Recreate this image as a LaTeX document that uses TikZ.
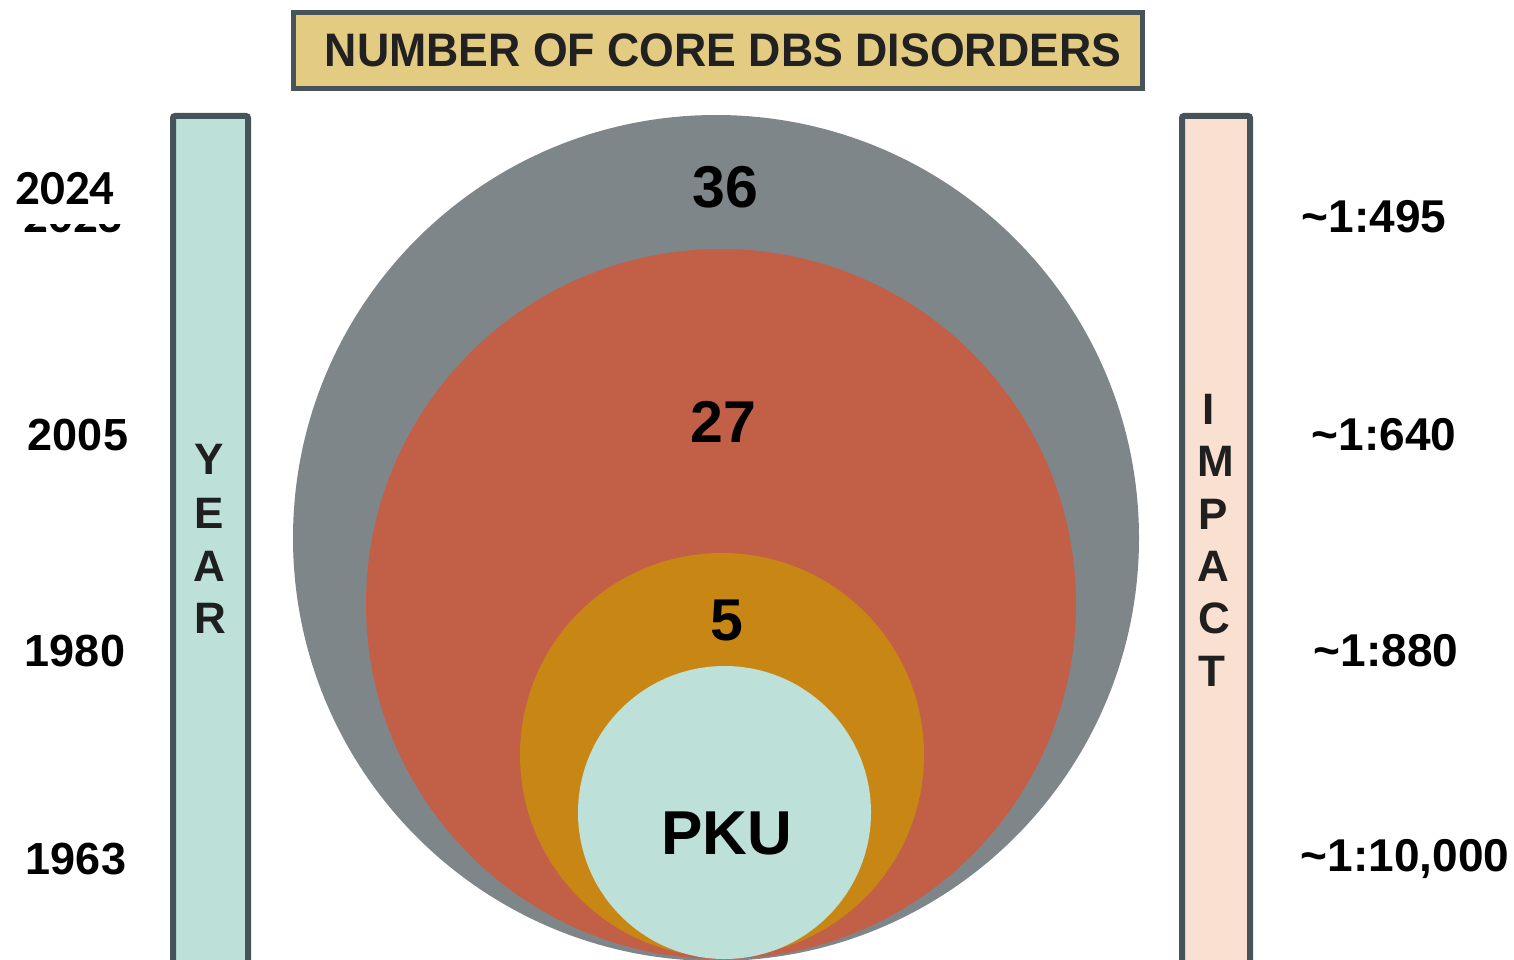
\documentclass[tikz,border=0pt]{standalone}
\usepackage{fontspec}
\setmainfont{Liberation Sans}
\newfontfamily\calib{Carlito}
\definecolor{cgray}{HTML}{7F868A}
\definecolor{cred}{HTML}{C26047}
\definecolor{corange}{HTML}{C88614}
\definecolor{cmint}{HTML}{BDE0D9}
\definecolor{cpeach}{HTML}{F9E0D0}
\definecolor{cborder}{HTML}{465459}
\definecolor{ctitle}{HTML}{E4CB82}
\tikzset{
  disc/.style={circle, inner sep=0pt, draw=none},
  bar/.style={draw=cborder, line width=6pt, rounded corners=2pt},
  big/.style={font=\fontsize{59}{59}\selectfont\bfseries, inner sep=0pt},
  lab/.style={font=\fontsize{45}{45}\selectfont\bfseries, inner sep=0pt},
  imp/.style={font=\fontsize{46}{46}\selectfont\bfseries, inner sep=0pt},
  vlet/.style={font=\fontsize{44}{44}\selectfont\bfseries, inner sep=0pt, text=black!88},
}
\begin{document}
\begin{tikzpicture}[x=1pt,y=-1pt]
\useasboundingbox (0,0) rectangle (1514,960);
\clip (0,0) rectangle (1514,960);
% title
\node[draw=cborder, fill=ctitle, line width=5pt, minimum width=849pt, minimum height=76pt, inner sep=0pt] (title) at (717.5,51) {};
\node[font=\fontsize{47}{47}\selectfont\bfseries, text=black!87, inner sep=0pt] (titletext) at (723,50) {\scalebox{0.95}[1]{NUMBER OF CORE DBS DISORDERS}};
% side bars
\draw[bar, fill=cmint] (173,116) rectangle (248,1000);
\draw[bar, fill=cpeach] (1182,116) rectangle (1250,1000);
\coordinate (yearbar) at (210,500);
\coordinate (impbar) at (1216,500);
% circles
\node[disc, fill=cgray, minimum size=846pt] (c36) at (716,538) {};
\node[disc, fill=cred, minimum size=710pt] (c27) at (721,604) {};
\node[disc, fill=corange, minimum size=404pt] (c5) at (722,755) {};
\node[disc, fill=cmint, minimum size=293pt] (cpku) at (724.5,812.5) {};
\node[big] (t36) at (725,187) {36};
\node[big] (t27) at (723,422) {27};
\node[big] (t5) at (727,620) {5};
\node[font=\fontsize{62}{62}\selectfont\bfseries, inner sep=0pt] (tpku) at (727,833) {PKU};
% YEAR letters
\node[vlet] (y1) at (209,459) {Y};
\node[vlet] (y2) at (209,513) {E};
\node[vlet] (y3) at (209,566) {A};
\node[vlet] (y4) at (210,618) {R};
% IMPACT letters
\node[vlet] (i1) at (1209,409) {I};
\node[vlet] (i2) at (1216,461) {M};
\node[vlet] (i3) at (1213,514) {P};
\node[vlet] (i4) at (1213,566) {A};
\node[vlet] (i5) at (1214,618) {C};
\node[vlet] (i6) at (1212,671) {T};
% years
\node[font=\calib\fontsize{49}{49}\selectfont\bfseries, anchor=base, inner sep=0pt] (y2023) at (73,232) {2023};
\node[fill=white, minimum width=160pt, minimum height=62pt, inner sep=0pt] (cover) at (70,193) {};
\node[font=\calib\fontsize{49}{49}\selectfont\bfseries, inner sep=0pt] (y2024) at (65,189) {2024};
\node[lab] (y2005) at (78,435) {2005};
\node[lab] (y1980) at (75,651) {1980};
\node[lab] (y1963) at (76,859) {1963};
% impact values
\node[imp] (v495) at (1374,217) {\textasciitilde1:495};
\node[imp] (v640) at (1384,435) {\textasciitilde1:640};
\node[imp] (v880) at (1386,651) {\textasciitilde1:880};
\node[imp] (v10000) at (1405,859) {\textasciitilde1:10,000};
\end{tikzpicture}
\end{document}
